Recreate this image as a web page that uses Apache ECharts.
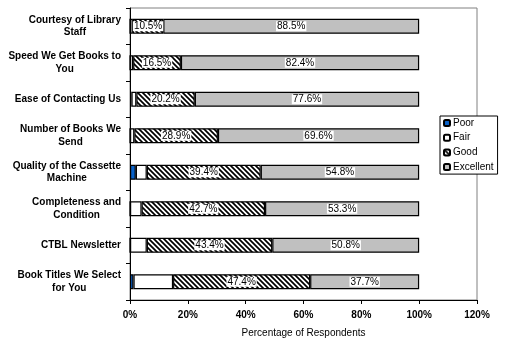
<!DOCTYPE html>
<html><head><meta charset="utf-8">
<script src="https://cdn.jsdelivr.net/npm/echarts@6/dist/echarts.min.js"></script>
<style>html,body{margin:0;padding:0;background:#fff}#c{width:506px;height:346px}</style>
</head><body><div id="c"></div>
<script>
const categories = ["Courtesy of Library\nStaff","Speed We Get Books to\nYou","Ease of Contacting Us","Number of Books We\nSend","Quality of the Cassette\nMachine","Completeness and\nCondition","CTBL Newsletter","Book Titles We Select\nfor You"];
const poor = [0, 0, 0.5, 0, 2.0, 0, 0, 1.2];
const fair = [1.0, 1.1, 1.7, 1.5, 3.8, 4.0, 5.8, 13.7];
const good = [10.5, 16.5, 20.2, 28.9, 39.4, 42.7, 43.4, 47.4];
const excellent = [88.5, 82.4, 77.6, 69.6, 54.8, 53.3, 50.8, 37.7];
const xTicks = [0, 20, 40, 60, 80, 100, 120];

function hatch() {
  const s = 5;
  const c = document.createElement('canvas');
  c.width = s; c.height = s;
  const g = c.getContext('2d');
  g.fillStyle = '#fff'; g.fillRect(0, 0, s, s);
  g.strokeStyle = '#000'; g.lineWidth = 1.7;
  g.beginPath();
  g.moveTo(-1, -1); g.lineTo(s + 1, s + 1);
  g.moveTo(-1, s - 1); g.lineTo(1, s + 1);
  g.moveTo(s - 1, -1); g.lineTo(s + 1, 1);
  g.stroke();
  return c;
}

const font = 'Liberation Sans, Arial, sans-serif';
const chart = echarts.init(document.getElementById('c'), null, {renderer: 'canvas'});
const lbl = {
  show: true, position: 'inside', color: '#000', fontFamily: font, fontSize: 10,
  backgroundColor: '#fff', padding: [0, 1, 0, 1],
  formatter: p => p.value.toFixed(1) + '%'
};
const border = {borderColor: '#000', borderWidth: 1.2};
chart.setOption({
  animation: false,
  grid: {left: 130, right: 29, top: 8, bottom: 46, show: true, borderColor: '#808080', borderWidth: 1, containLabel: false},
  legend: {
    orient: 'vertical', left: 440, top: 116, itemWidth: 6, itemHeight: 6, itemGap: 2.7,
    padding: [1, 4, 1, 3], borderColor: '#000', borderWidth: 1, backgroundColor: '#fff',
    textStyle: {fontFamily: font, fontSize: 10, color: '#000', lineHeight: 12, padding: [0, 0, 0, -2]},
    data: ['Poor', 'Fair', 'Good', 'Excellent']
  },
  xAxis: {
    type: 'value', min: 0, max: 120, interval: 20,
    name: 'Percentage of Respondents', nameLocation: 'middle', nameGap: 28,
    nameTextStyle: {fontFamily: font, fontSize: 10, color: '#000'},
    axisLine: {show: true, lineStyle: {color: '#000', width: 1}},
    axisTick: {show: true, length: 4, lineStyle: {color: '#000'}},
    axisLabel: {fontFamily: font, fontSize: 10, fontWeight: 'bold', color: '#000', margin: 10,
      formatter: v => xTicks.includes(v) ? v + '%' : ''},
    splitLine: {show: false}
  },
  yAxis: {
    type: 'category', inverse: true, data: categories,
    axisLine: {show: true, lineStyle: {color: '#000', width: 1}},
    axisTick: {show: true, length: 4, lineStyle: {color: '#000'}},
    axisLabel: {
      margin: 9, fontFamily: font, fontSize: 10, fontWeight: 'bold', color: '#000',
      formatter: v => v.split('\n').map(s => '{a|' + s + '}').join('\n'),
      rich: {a: {align: 'center', fontFamily: font, fontSize: 10, fontWeight: 'bold', color: '#000', lineHeight: 12.5}}
    }
  },
  series: [
    {name: 'Poor', type: 'bar', stack: 's', barWidth: 15, data: poor, itemStyle: Object.assign({color: '#0a62c8'}, border)},
    {name: 'Fair', type: 'bar', stack: 's', barWidth: 15, data: fair, itemStyle: Object.assign({color: '#fff'}, border)},
    {name: 'Good', type: 'bar', stack: 's', barWidth: 15, data: good, label: lbl, itemStyle: Object.assign({color: {image: hatch(), repeat: 'repeat'}}, border)},
    {name: 'Excellent', type: 'bar', stack: 's', barWidth: 15, data: excellent, label: lbl, itemStyle: Object.assign({color: '#c0c0c0'}, border)}
  ]
});
</script></body></html>
